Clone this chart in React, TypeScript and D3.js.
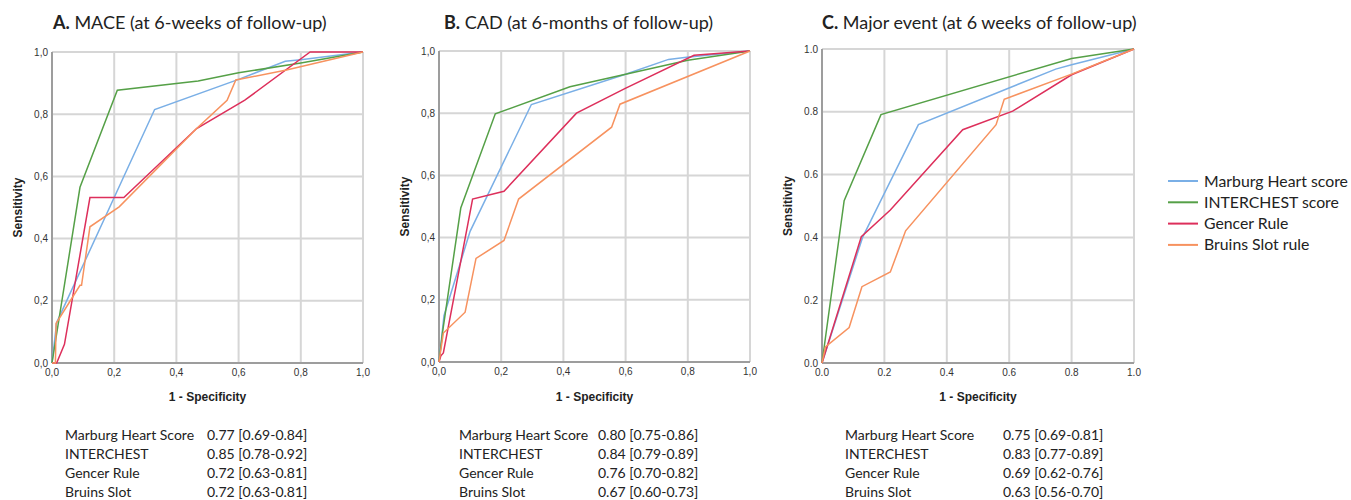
import React from "react";
import { scaleLinear, line } from "d3";

type Pt = [number, number];

// series names + colours
const seriesNames = ["Marburg Heart score", "INTERCHEST score", "Gencer Rule", "Bruins Slot rule"];
const seriesColors = ["#7aafe6", "#55a047", "#dd2f5b", "#f7925f"];

// tick values
const ticks = [0, 0.2, 0.4, 0.6, 0.8, 1.0];

// panel A: MACE 6 weeks
const maceMarburg: Pt[] = [[0, 0], [0.015, 0.13], [0.33, 0.815], [0.6, 0.912], [0.75, 0.97], [0.8, 0.975], [1, 1]];
const maceInterchest: Pt[] = [[0, 0], [0.09, 0.565], [0.21, 0.877], [0.47, 0.907], [0.6, 0.933], [0.8, 0.965], [1, 1]];
const maceGencer: Pt[] = [[0, 0], [0.015, 0], [0.04, 0.06], [0.122, 0.532], [0.231, 0.532], [0.465, 0.754], [0.62, 0.845], [0.83, 1], [1, 1]];
const maceBruins: Pt[] = [[0, 0], [0.011, 0], [0.013, 0.127], [0.09, 0.25], [0.095, 0.25], [0.122, 0.438], [0.216, 0.502], [0.465, 0.754], [0.563, 0.845], [0.591, 0.91], [0.754, 0.942], [1, 1]];

// panel B: CAD 6 months
const cadMarburg: Pt[] = [[0, 0], [0.016, 0.149], [0.1, 0.42], [0.297, 0.828], [0.6, 0.925], [0.738, 0.973], [0.796, 0.98], [1, 1]];
const cadInterchest: Pt[] = [[0, 0], [0.012, 0.1], [0.07, 0.495], [0.181, 0.798], [0.421, 0.885], [0.6, 0.925], [0.8, 0.97], [1, 1]];
const cadGencer: Pt[] = [[0, 0], [0.006, 0.02], [0.014, 0.029], [0.108, 0.524], [0.209, 0.549], [0.442, 0.8], [0.599, 0.88], [0.82, 0.986], [1, 1]];
const cadBruins: Pt[] = [[0, 0], [0.014, 0.093], [0.084, 0.16], [0.119, 0.333], [0.209, 0.391], [0.256, 0.524], [0.555, 0.755], [0.582, 0.829], [1, 1]];

// panel C: major event 6 weeks
const majMarburg: Pt[] = [[0, 0], [0.13, 0.4], [0.309, 0.759], [0.749, 0.936], [0.8, 0.95], [1, 1]];
const majInterchest: Pt[] = [[0, 0], [0.071, 0.517], [0.189, 0.791], [0.8, 0.97], [1, 1]];
const majGencer: Pt[] = [[0, 0], [0.126, 0.402], [0.219, 0.487], [0.451, 0.743], [0.611, 0.802], [0.8, 0.918], [1, 1]];
const majBruins: Pt[] = [[0, 0], [0.011, 0.051], [0.087, 0.113], [0.128, 0.243], [0.219, 0.29], [0.268, 0.421], [0.558, 0.759], [0.584, 0.84], [0.8, 0.92], [1, 1]];

// AUC tables
const aucLabels = ["Marburg Heart Score", "INTERCHEST", "Gencer Rule", "Bruins Slot"];
const aucMace = ["0.77 [0.69-0.84]", "0.85 [0.78-0.92]", "0.72 [0.63-0.81]", "0.72 [0.63-0.81]"];
const aucCad = ["0.80 [0.75-0.86]", "0.84 [0.79-0.89]", "0.76 [0.70-0.82]", "0.67 [0.60-0.73]"];
const aucMajor = ["0.75 [0.69-0.81]", "0.83 [0.77-0.89]", "0.69 [0.62-0.76]", "0.63 [0.56-0.70]"];

const titleFont = "Lato, 'Open Sans', sans-serif";
const axisFont = "'Liberation Sans', Arial, sans-serif";

interface PanelProps {
  letter: string;
  title: string;
  series: Pt[][];
  auc: string[];
  x0: number;
  y0: number;
  w: number;
  h: number;
  titleX: number;
  tableX: number;
  valueX: number;
  decimal: string;
}

function Panel({ letter, title, series, auc, x0, y0, w, h, titleX, tableX, valueX, decimal }: PanelProps) {
  const sx = scaleLinear().domain([0, 1]).range([x0, x0 + w]);
  const sy = scaleLinear().domain([0, 1]).range([y0 + h, y0]);
  const path = line<Pt>().x((d) => sx(d[0])).y((d) => sy(d[1]));
  const fmt = (v: number) => v.toFixed(1).replace(".", decimal);

  return (
    <g>
      {/* title */}
      <text x={titleX} y={29} fontFamily={titleFont} fontSize={18} fill="#222">
        <tspan fontWeight="bold">{letter}</tspan> {title}
      </text>

      {/* grid */}
      {ticks.map((t) => (
        <g key={`g-${t}`}>
          <line x1={sx(t)} x2={sx(t)} y1={y0} y2={y0 + h} stroke="#d6d6d6" strokeWidth={2} />
          <line x1={x0} x2={x0 + w} y1={sy(t)} y2={sy(t)} stroke="#d6d6d6" strokeWidth={2} />
        </g>
      ))}

      {/* axes */}
      <line x1={x0} x2={x0} y1={y0} y2={y0 + h} stroke="#8a8a8a" strokeWidth={1.5} />
      <line x1={x0} x2={x0 + w} y1={y0 + h} y2={y0 + h} stroke="#8a8a8a" strokeWidth={1.5} />

      {/* tick labels */}
      {ticks.map((t) => (
        <g key={`t-${t}`} fontFamily={axisFont} fontSize={10} fill="#333">
          <text x={x0 - 4} y={sy(t) + 3.5} textAnchor="end">{fmt(t)}</text>
          <text x={sx(t)} y={y0 + h + 13} textAnchor="middle">{fmt(t)}</text>
        </g>
      ))}

      {/* curves */}
      {series.map((s, i) => (
        <path key={`s-${i}`} d={path(s) ?? ""} fill="none" stroke={seriesColors[i]} strokeWidth={1.5} />
      ))}

      {/* axis titles */}
      <text
        transform={`translate(${x0 - 30},${y0 + h / 2}) rotate(-90)`}
        textAnchor="middle"
        fontFamily={axisFont}
        fontSize={12}
        fontWeight="bold"
        fill="#222"
      >
        Sensitivity
      </text>
      <text x={x0 + w / 2} y={401} textAnchor="middle" fontFamily={axisFont} fontSize={12} fontWeight="bold" fill="#222">
        1 - Specificity
      </text>

      {/* AUC table */}
      {aucLabels.map((lab, i) => (
        <g key={`a-${i}`} fontFamily={titleFont} fontSize={14} fill="#222">
          <text x={tableX} y={440 + i * 19}>{lab}</text>
          <text x={valueX} y={440 + i * 19}>{auc[i]}</text>
        </g>
      ))}
    </g>
  );
}

export default function App() {
  return (
    <svg width={1351} height={500} style={{ display: "block", position: "absolute", left: 0, top: 0, background: "#fff" }}>
      <rect width={1351} height={500} fill="#fff" />
      <Panel
        letter="A."
        title="MACE (at 6-weeks of follow-up)"
        series={[maceMarburg, maceInterchest, maceGencer, maceBruins]}
        auc={aucMace}
        x0={52}
        y0={52}
        w={311}
        h={311}
        titleX={53}
        tableX={65}
        valueX={207}
        decimal=","
      />
      <Panel
        letter="B."
        title="CAD (at 6-months of follow-up)"
        series={[cadMarburg, cadInterchest, cadGencer, cadBruins]}
        auc={aucCad}
        x0={439}
        y0={51}
        w={311}
        h={311}
        titleX={444}
        tableX={459}
        valueX={598}
        decimal=","
      />
      <Panel
        letter="C."
        title="Major event (at 6 weeks of follow-up)"
        series={[majMarburg, majInterchest, majGencer, majBruins]}
        auc={aucMajor}
        x0={822}
        y0={49}
        w={312}
        h={314}
        titleX={822}
        tableX={845}
        valueX={1003}
        decimal="."
      />

      {/* legend */}
      {seriesNames.map((name, i) => (
        <g key={`l-${i}`}>
          <line x1={1168} x2={1198} y1={181 + i * 21.3} y2={181 + i * 21.3} stroke={seriesColors[i]} strokeWidth={2} />
          <text x={1204} y={186.5 + i * 21.3} fontFamily={titleFont} fontSize={15.8} fill="#222">
            {name}
          </text>
        </g>
      ))}
    </svg>
  );
}
